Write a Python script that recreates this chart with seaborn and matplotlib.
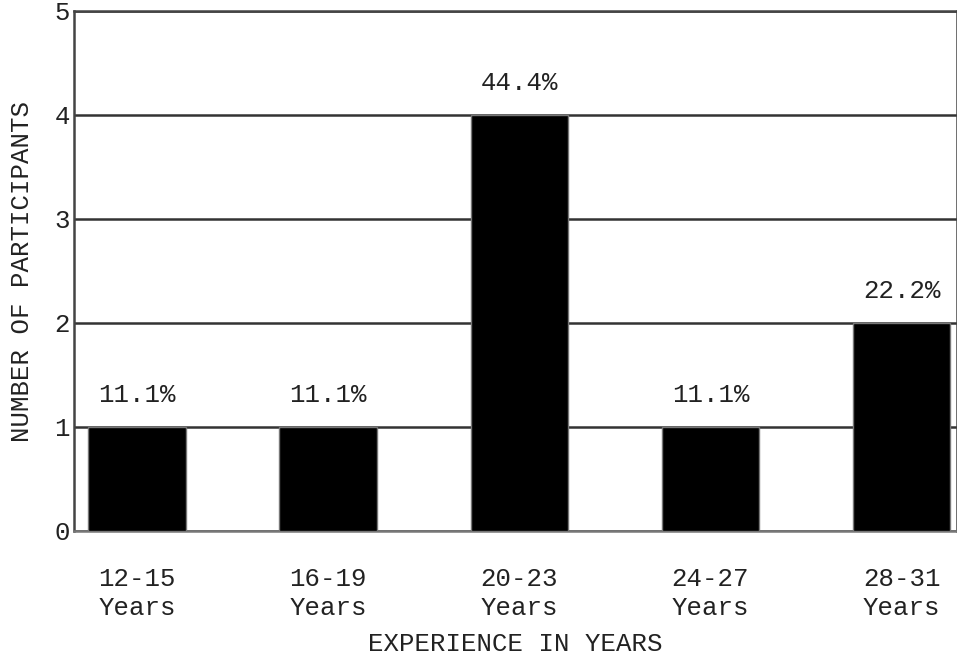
import matplotlib
matplotlib.use("Agg")
import matplotlib.pyplot as plt
import seaborn as sns
import pandas as pd

# Years of experience bands and how many participants fall in each
categories = ["12-15\nYears", "16-19\nYears", "20-23\nYears", "24-27\nYears", "28-31\nYears"]
counts = [1, 1, 4, 1, 2]
percent_labels = ["11.1%", "11.1%", "44.4%", "11.1%", "22.2%"]
y_ticks = [0, 1, 2, 3, 4, 5]

sns.set_style("white")
plt.rcParams["font.family"] = ["Liberation Mono", "DejaVu Sans Mono"]
FS = 18.5
TXT = "#222222"

df = pd.DataFrame({"band": categories, "count": counts})

fig = plt.figure(figsize=(9.57, 6.57), dpi=100)
ax = fig.add_axes([74 / 957, 1 - 531 / 657, 1 - 74 / 957, 520 / 657])

sns.barplot(data=df, x="band", y="count", color="black", width=0.51,
            edgecolor="#777777", linewidth=1, saturation=1, ax=ax, zorder=3)

ax.set_ylim(0, 5)
ax.set_xlim(-0.33, 4.29)
ax.set_yticks(y_ticks)
ax.yaxis.grid(True, color="#333333", linewidth=1.8, zorder=1)
ax.set_axisbelow(True)
for s in ax.spines.values():
    s.set_color("#444444")
    s.set_linewidth(1.8)
ax.spines["bottom"].set_color("#777777")

ax.tick_params(axis="both", length=0, labelsize=FS, colors=TXT)
ax.tick_params(axis="y", pad=3)
ax.tick_params(axis="x", pad=26)
for lab in ax.get_xticklabels():
    lab.set_linespacing(1.28)

ax.set_xlabel("EXPERIENCE IN YEARS", fontsize=FS, color=TXT, va="center")
ax.xaxis.set_label_coords(0.5, -(644 - 531) / 520)
ax.set_ylabel("NUMBER OF PARTICIPANTS", fontsize=FS, color=TXT, va="center")
ax.yaxis.set_label_coords(-(74 - 22) / 883, 0.5)

for i, (c, p) in enumerate(zip(counts, percent_labels)):
    ax.annotate(p, (i, c), xytext=(0, 23), textcoords="offset points",
                ha="center", va="center", fontsize=FS, color=TXT)

fig.savefig("out.png", dpi=100)
